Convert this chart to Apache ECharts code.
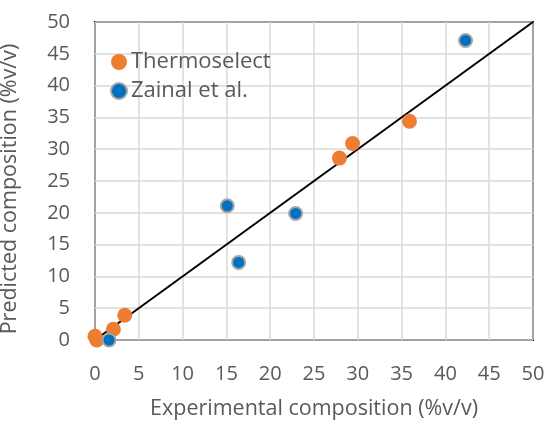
<!DOCTYPE html>
<html><head><meta charset="utf-8">
<script src="https://cdn.jsdelivr.net/npm/echarts@6/dist/echarts.min.js"></script>
<style>html,body{margin:0;padding:0;background:#fff}#c{width:549px;height:423px}</style>
</head><body><div id="c"></div>
<script>
const thermoselect = [[0,0.6],[0.2,0],[2.1,1.7],[3.4,3.9],[27.9,28.6],[29.4,30.9],[35.9,34.4]];
const zainal = [[1.6,0],[15.1,21.1],[16.4,12.2],[22.9,19.9],[42.3,47.1]];
const parity = [[0,0],[50,50]];
const xTitle = 'Experimental composition (%v/v)';
const yTitle = 'Predicted composition (%v/v)';
const font = '"Open Sans", "Liberation Sans", sans-serif';
const chart = echarts.init(document.getElementById('c'));
chart.setOption({
  animation:false,
  grid:{left:95,right:16,top:22,bottom:83,containLabel:false,outerBoundsMode:'none',
        show:true,borderColor:'#000',borderWidth:2,backgroundColor:'transparent'},
  legend:{
    left:105,top:46,orient:'vertical',itemGap:7,itemWidth:16,itemHeight:16,
    data:['Thermoselect','Zainal et al.'],
    textStyle:{fontFamily:font,fontSize:22,color:'#595959',padding:[0,0,0,-1]}
  },
  xAxis:{
    type:'value',min:0,max:50,interval:5,
    name:xTitle,nameLocation:'middle',nameGap:58,
    nameTextStyle:{fontFamily:font,fontSize:21.5,color:'#595959'},
    axisLine:{show:false},axisTick:{show:false},
    axisLabel:{fontFamily:font,fontSize:20,color:'#595959',margin:24},
    splitLine:{lineStyle:{color:'#d9d9d9',width:1.5}}
  },
  yAxis:{
    type:'value',min:0,max:50,interval:5,
    name:yTitle,nameLocation:'middle',nameGap:74,
    nameTextStyle:{fontFamily:font,fontSize:21.5,color:'#595959',padding:[0,16,0,0]},
    axisLine:{show:false},axisTick:{show:false},
    axisLabel:{fontFamily:font,fontSize:20,color:'#595959',margin:25},
    splitLine:{lineStyle:{color:'#d9d9d9',width:1.5}}
  },
  series:[
    {type:'line',data:parity,symbol:'none',lineStyle:{color:'#000',width:2},silent:true,z:2},
    {name:'Thermoselect',type:'scatter',data:thermoselect,symbol:'circle',symbolSize:15,
     itemStyle:{color:'#ED7D31',opacity:1},z:3},
    {name:'Zainal et al.',type:'scatter',data:zainal,symbol:'circle',symbolSize:13,
     itemStyle:{color:'#0070C0',borderColor:'#A5A5A5',borderWidth:2,opacity:1},z:4}
  ]
});
</script></body></html>
